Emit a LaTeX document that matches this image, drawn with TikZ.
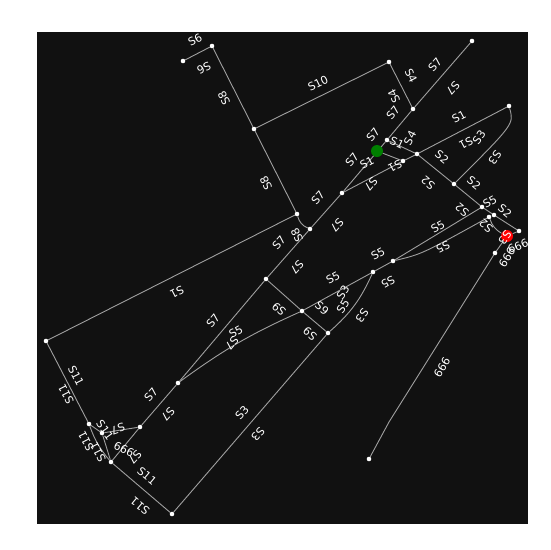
\documentclass[tikz,border=0pt]{standalone}
\usepackage{fontspec}
\setmainfont{DejaVu Sans}
\usepackage{tikz}
\usetikzlibrary{calc}

\definecolor{bgdark}{HTML}{111111}
\definecolor{edgegray}{HTML}{A0A0A0}
\definecolor{srcgreen}{HTML}{008000}

\begin{document}
\begin{tikzpicture}[
  x=1pt, y=-1pt,
  dot/.style={circle, fill=white, inner sep=0pt, minimum size=4.6pt},
  srcdot/.style={circle, fill=srcgreen, inner sep=0pt, minimum size=12pt},
  dstdot/.style={circle, fill=red, inner sep=0pt, minimum size=12pt},
  road/.style={draw=edgegray, line width=0.9pt},
  lbl/.style={text=white, inner sep=0pt, font=\fontsize{11}{12}\selectfont},
]

%% --- Canvas ---
\useasboundingbox[fill=white] (0,0) rectangle (550,550);
\fill[bgdark] (37,32) rectangle (528,524);

%% --- Nodes ---
\node[dot] (a)  at (183,61)  {};
\node[dot] (b)  at (212,46)  {};
\node[dot] (c)  at (254,129) {};
\node[dot] (d)  at (389,62)  {};
\node[dot] (e)  at (472,41)  {};
\node[dot] (f)  at (413,109) {};
\node[dot] (g)  at (387,140) {};
\node[dot] (i)  at (417,154) {};
\node[dot] (j)  at (403,161) {};
\node[dot] (h)  at (509,106) {};
\node[dot] (k)  at (454,184) {};
\node[dot] (q)  at (342,193) {};
\node[dot] (p)  at (297,214) {};
\node[dot] (r)  at (310,229) {};
\node[dot] (s)  at (266,279) {};
\node[dot] (t)  at (46,341)  {};
\node[dot] (u)  at (178,383) {};
\node[dot] (v)  at (302,311) {};
\node[dot] (w)  at (328,333) {};
\node[dot] (x)  at (373,272) {};
\node[dot] (z)  at (393,261) {};
\node[dot] (aa) at (482,207) {};
\node[dot] (ab) at (489,217) {};
\node[dot] (ac) at (494,215) {};
\node[dot] (ad) at (519,231) {};
\node[dot] (ae) at (495,253) {};
\node[dot] (af) at (369,459) {};
\node[dot] (ba) at (89,424)  {};
\node[dot] (bb) at (102,433) {};
\node[dot] (bc) at (140,427) {};
\node[dot] (bd) at (111,462) {};
\node[dot] (y)  at (172,514) {};
\coordinate (kink) at (389,422);

%% --- Roads ---
\draw[road] (a) -- (b);
\draw[road] (b) -- (c);
\draw[road] (c) -- (d);
\draw[road] (c) -- (p);
\draw[road] (d) -- (f);
\draw[road] (e) -- (f);
\draw[road] (f) -- (g);
\draw[road] (g) -- (q);
\draw[road] (q) -- (r);
\draw[road] (p) to[bend right=25] (r);
\draw[road] (r) -- (s);
\draw[road] (p) -- (t);
\draw[road] (s) -- (u);
\draw[road] (s) -- (v);
\draw[road] (v) -- (w);
\draw[road] (u) to[bend left=6] (v);
\draw[road] (v) -- (x);
\draw[road] (x) to[bend left=12] (w);
\draw[road] (w) -- (y);
\draw[road] (x) -- (z);
\draw[road] (z) -- (aa);
\draw[road] (z) .. controls (422,254) .. (ab);
\draw[road] (k) -- (aa);
\draw[road] (aa) -- (ac);
\draw[road] (ac) -- (ad);
\draw[road] (g) -- (i);
\draw[road] (j) -- (i);
\draw[road] (j) -- (q);
\draw[road] (i) -- (h);
\draw[road] (i) -- (k);
\draw[road] (h) .. controls (514,124) .. (k);
\draw[road] (ae) -- (kink) -- (af);
\draw[road] (t) -- (ba);
\draw[road] (ba) -- (bb);
\draw[road] (bb) -- (bc);
\draw[road] (bb) -- (bd);
\draw[road] (ba) to[bend right=10] (bd);
\draw[road] (bc) -- (bd);
\draw[road] (bc) -- (u);
\draw[road] (bd) -- (y);

%% --- Start and goal ---
\node[srcdot] (src) at (377,151) {};
\node[dstdot] (dst) at (507,236) {};
\draw[road] (src) -- (j);
\draw[road] (ab) to[bend right=20] (dst);
\draw[road] (ad) -- (dst);
\draw[road] (dst) -- (ae);

%% --- Street names ---
\node[lbl, rotate=27]  (l1)  at (195,40)  {S6};
\node[lbl, rotate=207] (l2)  at (204,68)  {S6};
\node[lbl, rotate=117] (l3)  at (224,98)  {S8};
\node[lbl, rotate=26]  (l4)  at (318,83)  {S10};
\node[lbl, rotate=117] (l5)  at (266,183) {S8};
\node[lbl, rotate=-63] (l6)  at (411,76)  {S4};
\node[lbl, rotate=117] (l7)  at (394,96)  {S4};
\node[lbl, rotate=49]  (l8)  at (435,65)  {S7};
\node[lbl, rotate=229] (l9)  at (453,88)  {S7};
\node[lbl, rotate=50]  (l10) at (393,113) {S7};
\node[lbl, rotate=50]  (l11) at (373,135) {S7};
\node[lbl, rotate=-25] (l12) at (397,143) {S1};
\node[lbl, rotate=63]  (l13) at (410,138) {S4};
\node[lbl, rotate=28]  (l14) at (459,117) {S1};
\node[lbl, rotate=208] (l15) at (466,143) {S1};
\node[lbl, rotate=55]  (l16) at (479,137) {S3};
\node[lbl, rotate=235] (l17) at (495,158) {S3};
\node[lbl, rotate=-39] (l18) at (442,157) {S2};
\node[lbl, rotate=141] (l19) at (428,183) {S2};
\node[lbl, rotate=-39] (l20) at (474,183) {S2};
\node[lbl, rotate=141] (l21) at (462,210) {S2};
\node[lbl, rotate=50]  (l22) at (352,160) {S7};
\node[lbl, rotate=28]  (l23) at (367,163) {S1};
\node[lbl, rotate=230] (l24) at (371,184) {S7};
\node[lbl, rotate=208] (l25) at (395,166) {S1};
\node[lbl, rotate=48]  (l26) at (318,198) {S7};
\node[lbl, rotate=228] (l27) at (337,225) {S7};
\node[lbl, rotate=117] (l28) at (297,235) {S8};
\node[lbl, rotate=48]  (l29) at (279,243) {S7};
\node[lbl, rotate=228] (l30) at (297,267) {S7};
\node[lbl, rotate=207] (l31) at (177,292) {S1};
\node[lbl, rotate=29]  (l32) at (333,278) {S5};
\node[lbl, rotate=138] (l33) at (279,309) {S9};
\node[lbl, rotate=-40] (l34) at (322,308) {S9};
\node[lbl, rotate=140] (l35) at (310,334) {S9};
\node[lbl, rotate=58]  (l36) at (343,292) {S3};
\node[lbl, rotate=58]  (l37) at (343,306) {S5};
\node[lbl, rotate=234] (l38) at (362,316) {S3};
\node[lbl, rotate=29]  (l39) at (378,254) {S5};
\node[lbl, rotate=209] (l40) at (388,282) {S5};
\node[lbl, rotate=30]  (l41) at (438,227) {S5};
\node[lbl, rotate=207] (l42) at (443,247) {S5};
\node[lbl, rotate=30]  (l43) at (490,202) {S5};
\node[lbl, rotate=-39] (l44) at (505,211) {S2};
\node[lbl, rotate=141] (l45) at (486,226) {S2};
\node[lbl, rotate=235] (l46) at (505,238) {S3};
\node[lbl, rotate=23]  (l47) at (518,246) {666};
\node[lbl, rotate=58]  (l48) at (507,257) {666};
\node[lbl, rotate=58]  (l49) at (442,367) {666};
\node[lbl, rotate=50]  (l50) at (213,321) {S7};
\node[lbl, rotate=30]  (l51) at (236,332) {S5};
\node[lbl, rotate=230] (l52) at (232,343) {S7};
\node[lbl, rotate=49]  (l53) at (151,395) {S7};
\node[lbl, rotate=229] (l54) at (168,414) {S7};
\node[lbl, rotate=49]  (l55) at (242,413) {S3};
\node[lbl, rotate=229] (l56) at (258,434) {S3};
\node[lbl, rotate=-63] (l57) at (76,376)  {S11};
\node[lbl, rotate=117] (l58) at (66,394)  {S11};
\node[lbl, rotate=-40] (l59) at (147,476) {S11};
\node[lbl, rotate=140] (l60) at (140,506) {S11};
\node[lbl, rotate=-55] (l61) at (105,430) {S11};
\node[lbl, rotate=200] (l62) at (118,429) {S7};
\node[lbl, rotate=-25] (l63) at (124,449) {666};
\node[lbl, rotate=228] (l64) at (135,457) {S7};
\node[lbl, rotate=117] (l65) at (86,441)  {S11};
\node[lbl, rotate=117] (l66) at (98,452)  {S11};

\end{tikzpicture}
\end{document}
